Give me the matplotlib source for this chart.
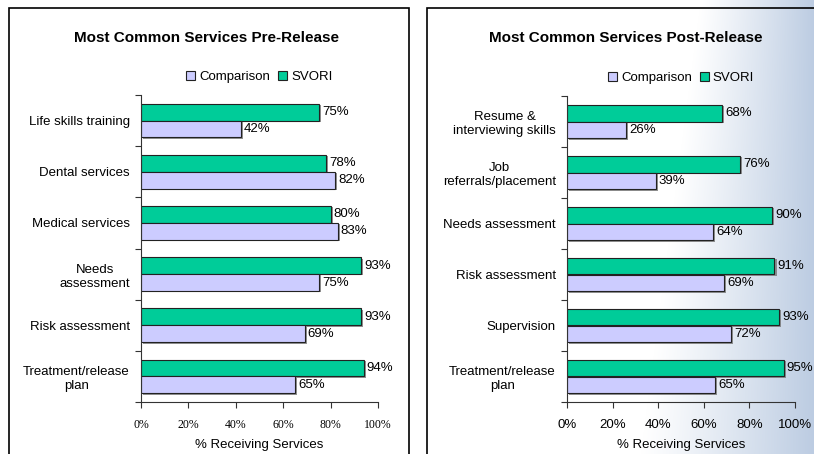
import numpy as np
import matplotlib
matplotlib.use("Agg")
import matplotlib.pyplot as plt
from matplotlib.patches import Rectangle
import matplotlib.patheffects as pe

plt.rcParams['font.family'] = ['Liberation Sans', 'DejaVu Sans']

# ---- data ----
pre_categories = ["Life skills training", "Dental services", "Medical services",
                  "Needs\nassessment", "Risk assessment", "Treatment/release\nplan"]
pre_svori = [75, 78, 80, 93, 93, 94]
pre_comparison = [42, 82, 83, 75, 69, 65]

post_categories = ["Resume &\ninterviewing skills", "Job\nreferrals/placement",
                   "Needs assessment", "Risk assessment", "Supervision",
                   "Treatment/release\nplan"]
post_svori = [68, 76, 90, 91, 93, 95]
post_comparison = [26, 39, 64, 69, 72, 65]

xticks = [0, 20, 40, 60, 80, 100]
xtick_labels = ["0%", "20%", "40%", "60%", "80%", "100%"]
series_names = ["Comparison", "SVORI"]
titles = ["Most Common Services Pre-Release", "Most Common Services Post-Release"]
xlabel = "% Receiving Services"

GREEN = "#00CC99"
LAV = "#CCCCFF"
EDGE = "#222222"

W, H = 814, 454
fig = plt.figure(figsize=(W / 100, H / 100), dpi=100)

# background gradient
bg = fig.add_axes([0, 0, 1, 1], zorder=-10)
xs = np.arange(W)
ys = np.arange(H)
X, Y = np.meshgrid(xs, ys)
x0 = 700 - 60 * (Y / H)
t = np.clip((X - x0) / (W - x0), 0, 1) ** 1.1
c0 = np.array([1.0, 1.0, 1.0])
c1 = np.array([188, 204, 226]) / 255
img = c0[None, None, :] * (1 - t[..., None]) + c1[None, None, :] * t[..., None]
bg.imshow(img, extent=[0, W, H, 0], aspect='auto')
bg.set_axis_off()

# panel borders
def px_rect(x0p, y0p, x1p, y1p):
    return Rectangle((x0p / W, 1 - y1p / H), (x1p - x0p) / W, (y1p - y0p) / H,
                     transform=fig.transFigure, fill=False, edgecolor='black',
                     linewidth=1.2, zorder=-5)
fig.add_artist(px_rect(9, 8, 409, 470))
fig.add_artist(px_rect(427, 8, 840, 470))

def make_panel(axpos, cats, svori, comp, title, title_x, tick_font):
    ax = fig.add_axes(axpos)
    ax.set_facecolor('none')
    n = len(cats)
    y = np.arange(n)
    h = 0.33
    shadow = [pe.SimplePatchShadow(offset=(1.5, -1.0), shadow_rgbFace='#777777', alpha=0.8),
              pe.Normal()]
    b1 = ax.barh(y - h / 2, svori, height=h, color=GREEN, edgecolor=EDGE,
                 linewidth=0.8, label=series_names[1])
    b2 = ax.barh(y + h / 2, comp, height=h, color=LAV, edgecolor=EDGE,
                 linewidth=0.8, label=series_names[0])
    for b in list(b1) + list(b2):
        b.set_path_effects(shadow)
    for yi, v in zip(y - h / 2, svori):
        ax.text(v + 1.3, yi, f"{v}%", va='center', ha='left', fontsize=9.5)
    for yi, v in zip(y + h / 2, comp):
        ax.text(v + 1.3, yi, f"{v}%", va='center', ha='left', fontsize=9.5)
    ax.set_xlim(0, 100)
    ax.set_ylim(n - 0.5, -0.5)
    ax.set_yticks(y)
    ax.set_yticklabels(cats, fontsize=9.5, multialignment='center', linespacing=1.25)
    ax.set_yticks(np.arange(n + 1) - 0.5, minor=True)
    ax.tick_params(axis='y', which='major', length=0, pad=8)
    ax.tick_params(axis='y', which='minor', length=4, width=0.8, color='#333333')
    ax.set_xticks(xticks)
    ax.set_xticklabels(xtick_labels, **tick_font)
    ax.tick_params(axis='x', length=4, width=0.8, color='#333333', pad=8)
    ax.set_xlabel(xlabel, fontsize=9.5, labelpad=6)
    for s in ['top', 'right']:
        ax.spines[s].set_visible(False)
    for s in ['left', 'bottom']:
        ax.spines[s].set_color('#333333')
        ax.spines[s].set_linewidth(0.8)
    handles = [b2, b1]
    leg = ax.legend(handles, series_names, loc='center', bbox_to_anchor=(0.5, 1.0 + (95 - 77) / 307),
                    ncol=2, frameon=False, fontsize=9.5, handlelength=0.7, handleheight=0.7,
                    handletextpad=0.3, columnspacing=0.6, borderaxespad=0)
    for p in leg.get_patches():
        p.set_path_effects([])
    fig.text(title_x / W, 1 - 38 / H, title, ha='center', va='center',
             fontsize=11, fontweight='bold')
    return ax

make_panel([141 / W, 1 - 402 / H, (378 - 141) / W, (402 - 95) / H],
           pre_categories, pre_svori, pre_comparison, titles[0], 206,
           dict(fontsize=8.5, family='Liberation Serif'))
make_panel([567 / W, 1 - 402 / H, (795 - 567) / W, (402 - 96) / H],
           post_categories, post_svori, post_comparison, titles[1], 626,
           dict(fontsize=9.5))

fig.savefig("out.png", dpi=100)
